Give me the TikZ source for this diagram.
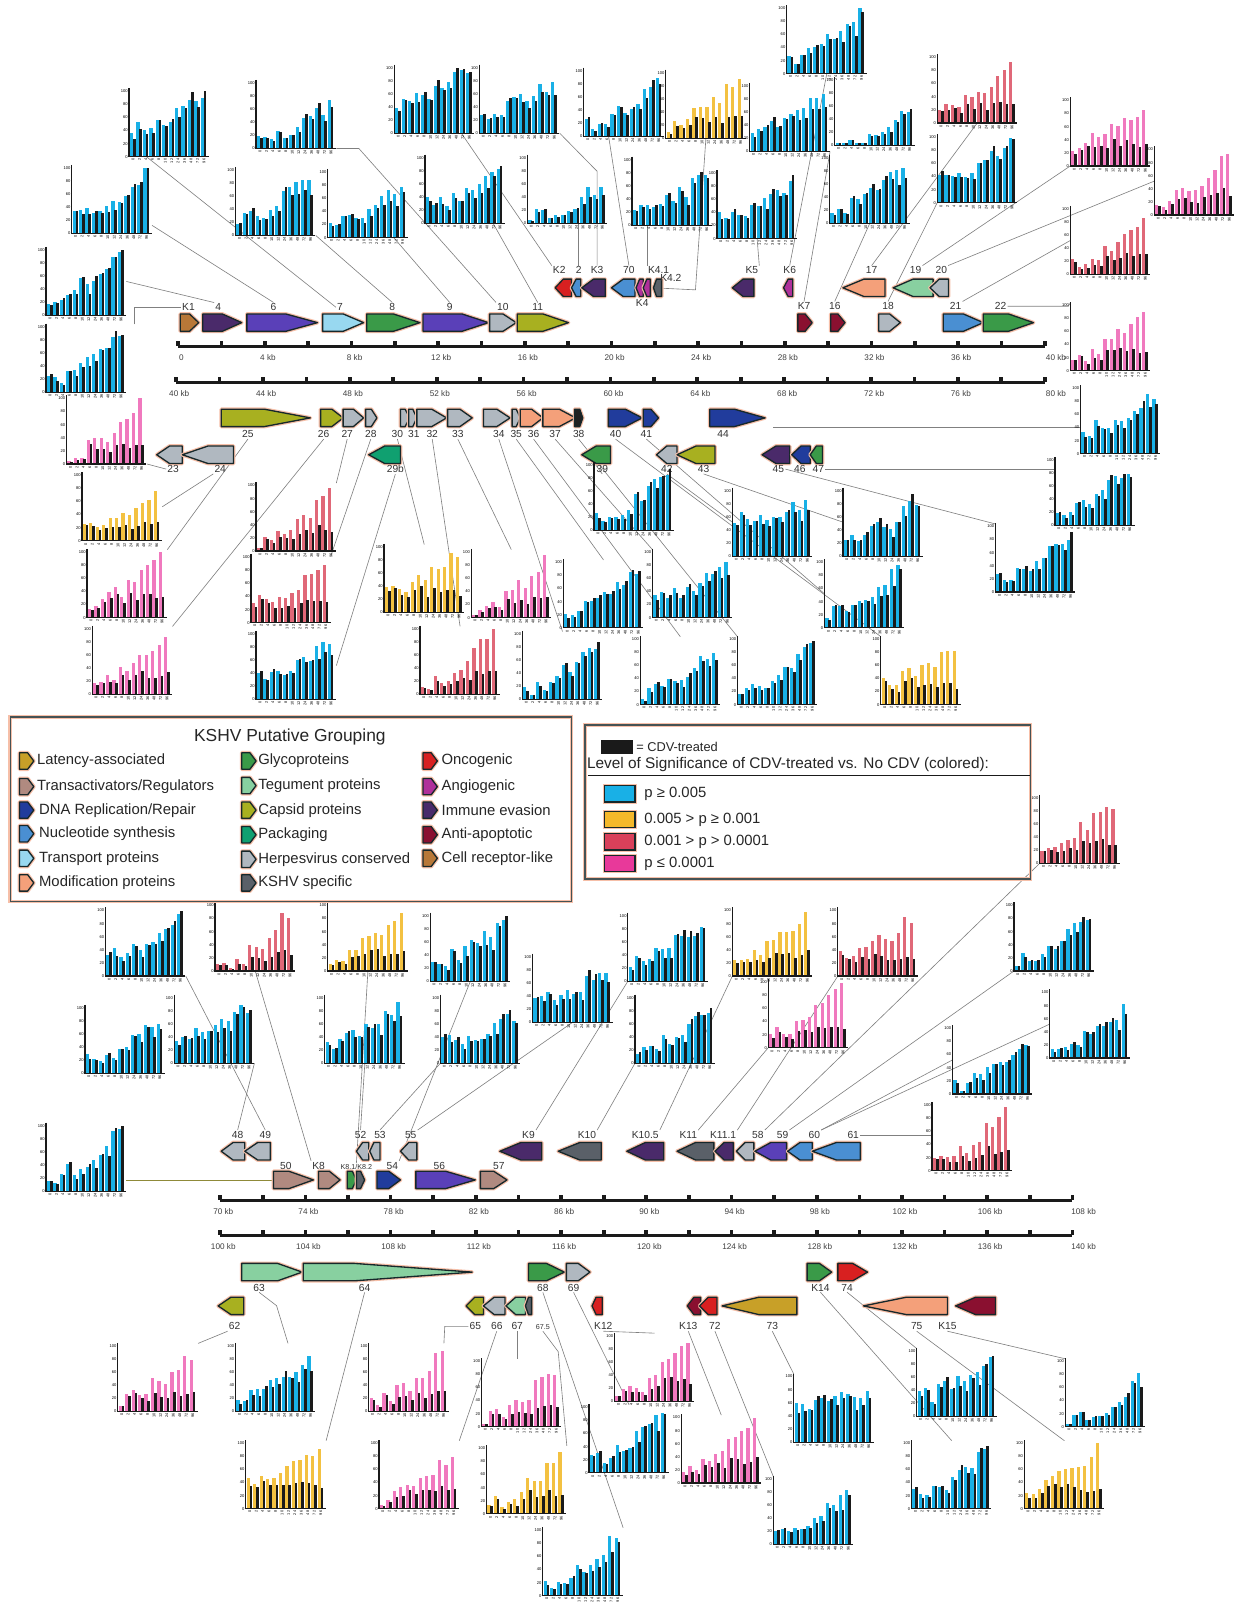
\documentclass[tikz,border=0pt]{standalone}
\usepackage{fontspec}
\setmainfont{Liberation Sans}
\usetikzlibrary{calc}
\pgfdeclarelayer{bg}
\pgfsetlayers{bg,main}
\definecolor{cblue}{HTML}{19B0E6}
\definecolor{cyell}{HTML}{F3C141}
\definecolor{cred}{HTML}{E06878}
\definecolor{cpink}{HTML}{F079BE}
\definecolor{kblack}{HTML}{1A1A1A}
\definecolor{outl}{HTML}{17282B}
\definecolor{halo}{HTML}{F6BFA8}
\definecolor{latency}{HTML}{C8A028}
\definecolor{transact}{HTML}{B08A80}
\definecolor{dna}{HTML}{213C9C}
\definecolor{nucleo}{HTML}{4A8FD2}
\definecolor{transport}{HTML}{98D8F0}
\definecolor{modif}{HTML}{F4A07A}
\definecolor{glyco}{HTML}{3A9A48}
\definecolor{tegument}{HTML}{88D0A0}
\definecolor{capsid}{HTML}{A8B020}
\definecolor{packaging}{HTML}{10A070}
\definecolor{herpes}{HTML}{B0B8C0}
\definecolor{kshv}{HTML}{5A6068}
\definecolor{onco}{HTML}{D82020}
\definecolor{angio}{HTML}{B0309A}
\definecolor{immune}{HTML}{4A2A6A}
\definecolor{antiapo}{HTML}{8A1030}
\definecolor{cellrec}{HTML}{B87838}
\definecolor{violet}{HTML}{5A40B8}
\definecolor{darkg}{HTML}{202020}
\tikzset{
 conn/.style={draw=black!50, line width=0.6pt},
 connol/.style={draw=olive!60!gray, line width=0.7pt},
 glab/.style={font=\fontsize{10}{10}\selectfont, text=black!80, inner sep=1pt},
 sglab/.style={font=\fontsize{7}{7}\selectfont, text=black!80, inner sep=1pt},
 sclab/.style={font=\fontsize{8}{8}\selectfont, text=black!75, inner sep=1pt},
 ylab/.style={font=\fontsize{4}{4}\selectfont, inner sep=0.3pt, anchor=east},
 xlab/.style={font=\fontsize{3.8}{3.8}\selectfont, inner sep=0.3pt, anchor=east, rotate=90},
 halostyle/.style={draw=halo, line width=3.6pt, line join=round},
 gbody/.style={draw=outl, line width=1.3pt, line join=round},
 chartbox/.style={inner sep=0pt, minimum width=78pt, minimum height=66pt, anchor=south west},
 legt/.style={font=\fontsize{14.5}{14.5}\selectfont, anchor=west, inner sep=1pt, text=black!85},
}
% chart: id, x0, y0 (axis origin), colour, base, top, suppressed black (1) or not (0)
\newcommand\kchart[7]{%
\begin{scope}[shift={(#2,#3)}]
\pgfmathsetseed{#1}%
\foreach \i in {0,...,11}{%
 \pgfmathsetmacro\tq{\i/11}%
 \pgfmathsetmacro\cv{max(4,min(100,#5+(#6-#5)*(0.3*\tq+0.7*\tq*\tq)+12*rand))}%
 \ifnum#7=1
   \pgfmathsetmacro\bv{max(3,\cv*(1-0.6*\tq)*(0.7+0.3*rnd))}%
 \else
   \pgfmathsetmacro\bv{max(4,min(100,\cv*(0.7+0.45*rnd)))}%
 \fi
 \fill[#4] ({\i*6.3+0.8},0) rectangle ++(3.2,{-0.64*\cv});
 \fill[kblack] ({\i*6.3+3.8},0) rectangle ++(2.5,{-0.64*\bv});
}
\draw[line width=1.2pt,kblack] (0,-67) -- (0,0) -- (78,0);
\foreach \v in {0,20,40,60,80,100} \node[ylab] (c#1y\v) at (-0.8,{-0.64*\v}) {\v};
\foreach \tv [count=\k from 0] in {0,2,4,6,8,10,12,24,36,48,72,96} \node[xlab] (c#1x\k) at ({\k*6.3+3.8},1.5) {\tv};
\end{scope}
\node[chartbox] (c#1) at (#2,#3) {};
}
% genes: [tip]{name}{x1}{x2}{y}{colour}
\newcommand\gr[6][0]{%
 \pgfmathsetmacro\tp{#1>0 ? #1 : min(0.5*(#4-#3),26)}%
 \draw[halostyle] (#3,#5-8.5) -- ({#4-\tp},#5-8.5) -- (#4,#5) -- ({#4-\tp},#5+8.5) -- (#3,#5+8.5) -- cycle;
 \filldraw[gbody,fill=#6] (#3,#5-8.5) -- ({#4-\tp},#5-8.5) -- (#4,#5) -- ({#4-\tp},#5+8.5) -- (#3,#5+8.5) -- cycle;
 \coordinate (#2) at ({(#3+#4)/2},#5);
 \coordinate (#2s) at (#3,#5);
 \coordinate (#2t) at (#4,#5);
}
\newcommand\gl[6][0]{%
 \pgfmathsetmacro\tp{#1>0 ? #1 : min(0.5*(#4-#3),26)}%
 \draw[halostyle] (#4,#5-8.5) -- ({#3+\tp},#5-8.5) -- (#3,#5) -- ({#3+\tp},#5+8.5) -- (#4,#5+8.5) -- cycle;
 \filldraw[gbody,fill=#6] (#4,#5-8.5) -- ({#3+\tp},#5-8.5) -- (#3,#5) -- ({#3+\tp},#5+8.5) -- (#4,#5+8.5) -- cycle;
 \coordinate (#2) at ({(#3+#4)/2},#5);
 \coordinate (#2s) at (#4,#5);
 \coordinate (#2t) at (#3,#5);
}
% scale bar: id, x0, x1, y, start value, end label
\newcommand\scalebar[6]{%
 \draw[line width=3pt,kblack] (#2,#4) -- (#3,#4);
 \foreach \k in {0,...,20}{\fill[kblack] ({#2+(#3-#2)/20*\k-1.8},#4) rectangle ++(3.6,-5);}
 \foreach \k in {0,...,9}{%
   \pgfmathtruncatemacro\lv{#5+4*\k}%
   \node[sclab] (s#1n\k) at ({#2+(#3-#2)/10*\k+3},#4+11) {\ifnum\lv=0 0\else\lv\ kb\fi};}
 \node[sclab] (s#1n10) at ({#3+11},#4+11) {#6\ kb};
}
\newcommand\licon[4]{%
 \draw[halostyle] (#2,#3-8) -- (#2+8,#3-8) -- (#2+14,#3) -- (#2+8,#3+8) -- (#2,#3+8) -- cycle;
 \filldraw[gbody,fill=#4] (#2,#3-8) -- (#2+8,#3-8) -- (#2+14,#3) -- (#2+8,#3+8) -- (#2,#3+8) -- cycle;
 \coordinate (#1) at (#2+7,#3);
}
\begin{document}
\begin{tikzpicture}[x=1pt,y=-1pt]
\useasboundingbox (0,0) rectangle (1205,1568);
\begin{pgfonlayer}{bg}
\fill[white] (0,0) rectangle (1205,1568);
\end{pgfonlayer}

% ---------------- scale bars
\scalebar{1}{174}{1020}{338}{0}{40}
\scalebar{2}{172}{1020}{373}{40}{80}
\scalebar{3}{215}{1047}{1172}{70}{108}
\scalebar{4}{215}{1047}{1206}{100}{140}

% ---------------- genes row 1
\gr{gK1}{176}{194}{315}{cellrec}
\gr{g4}{198}{236}{315}{immune}
\gr[31]{g6}{241}{310}{315}{violet}
\gr{g7}{315}{355}{315}{transport}
\gr{g8}{358}{410}{315}{glyco}
\gr{g9}{413}{477}{315}{violet}
\gr{g10}{478}{504}{315}{herpes}
\gr{g11}{505}{555}{315}{capsid}
\gr{gK7}{779}{793}{315}{antiapo}
\gr{g16}{811}{825}{315}{antiapo}
\gr{g18}{858}{879}{315}{herpes}
\gr{g21}{921}{960}{315}{nucleo}
\gr{g22}{960}{1009}{315}{glyco}
\gl{gK2}{542}{558}{281}{onco}
\gl{g2}{558}{567}{281}{nucleo}
\gl{gK3}{568}{591}{281}{immune}
\gl{g70}{597}{620}{281}{nucleo}
\gl{gK4}{621}{628}{281}{angio}
\gl{gK41}{628}{635}{281}{angio}
\gl[3]{gK42}{638}{646}{281}{kshv}
\gl{gK5}{715}{736}{281}{immune}
\gl{gK6}{765}{774}{281}{angio}
\gl{g17}{823}{864}{281}{modif}
\gl{g19}{872}{911}{281}{tegument}
\gl{g20}{908}{926}{281}{herpes}
\node[glab] (lK1) at (184,300) {K1};
\node[glab] (l4) at (213,300) {4};
\node[glab] (l6) at (267,300) {6};
\node[glab] (l7) at (332,300) {7};
\node[glab] (l8) at (383,300) {8};
\node[glab] (l9) at (439,300) {9};
\node[glab] (l10) at (491,300) {10};
\node[glab] (l11) at (525,300) {11};
\node[glab] (lK2) at (546,264) {K2};
\node[glab] (l2) at (565,264) {2};
\node[glab] (lK3) at (583,264) {K3};
\node[glab] (l70) at (614,264) {70};
\node[glab] (lK41) at (643,264) {K4.1};
\node[glab] (lK42) at (655,271) {K4.2};
\node[glab] (lK4) at (627,296) {K4};
\node[glab] (lK5) at (734,264) {K5};
\node[glab] (lK6) at (771,264) {K6};
\node[glab] (l17) at (851,264) {17};
\node[glab] (l19) at (894,264) {19};
\node[glab] (l20) at (919,264) {20};
\node[glab] (lK7) at (785,299) {K7};
\node[glab] (l16) at (815,299) {16};
\node[glab] (l18) at (867,299) {18};
\node[glab] (l21) at (933,299) {21};
\node[glab] (l22) at (977,299) {22};

% ---------------- genes row 2
\gr[45]{g25}{216}{303}{408}{capsid}
\gr{g26}{313}{335}{408}{capsid}
\gr{g27}{335}{355}{408}{herpes}
\gr{g28}{357}{368}{408}{herpes}
\gr{g30}{391}{400}{408}{herpes}
\gr{g31}{399}{407}{408}{herpes}
\gr{g32}{407}{436}{408}{herpes}
\gr{g33}{437}{461}{408}{herpes}
\gr{g34}{472}{498}{408}{herpes}
\gr{g35}{500}{508}{408}{herpes}
\gr{g36}{508}{530}{408}{modif}
\gr{g37}{530}{562}{408}{modif}
\gr[3]{g38}{561}{569}{408}{darkg}
\gr{g40}{594}{627}{408}{dna}
\gr{g41}{628}{643}{408}{dna}
\gr[30]{g44}{693}{747}{408}{dna}
\gl{g23}{153}{178}{444}{herpes}
\gl{g24}{178}{228}{444}{herpes}
\gl{g29b}{360}{391}{444}{packaging}
\gl{g39}{568}{596}{444}{glyco}
\gl{g42}{641}{661}{444}{herpes}
\gl{g43}{661}{698}{444}{capsid}
\gl{g45}{744}{771}{444}{immune}
\gl{g46}{773}{791}{444}{dna}
\gl[6]{g47}{791}{803}{444}{glyco}
\node[glab] (l25) at (242,424) {25};
\node[glab] (l26) at (316,424) {26};
\node[glab] (l27) at (339,424) {27};
\node[glab] (l28) at (362,424) {28};
\node[glab] (l30) at (388,424) {30};
\node[glab] (l31) at (404,424) {31};
\node[glab] (l32) at (422,424) {32};
\node[glab] (l33) at (447,424) {33};
\node[glab] (l34) at (487,424) {34};
\node[glab] (l35) at (504,424) {35};
\node[glab] (l36) at (521,424) {36};
\node[glab] (l37) at (542,424) {37};
\node[glab] (l38) at (565,424) {38};
\node[glab] (l40) at (601,424) {40};
\node[glab] (l41) at (631,424) {41};
\node[glab] (l44) at (706,424) {44};
\node[glab] (l23) at (169,458) {23};
\node[glab] (l24) at (215,458) {24};
\node[glab] (l29b) at (386,458) {29b};
\node[glab] (l39) at (588,458) {39};
\node[glab] (l42) at (651,458) {42};
\node[glab] (l43) at (687,458) {43};
\node[glab] (l45) at (760,458) {45};
\node[glab] (l46) at (781,458) {46};
\node[glab] (l47) at (799,458) {47};

% ---------------- genes row 3
\gl{g48}{216}{239}{1124}{herpes}
\gl{g49}{239}{264}{1124}{herpes}
\gl{g52}{348}{360}{1124}{herpes}
\gl[4]{g53}{361}{371}{1124}{herpes}
\gl{g55}{391}{407}{1124}{herpes}
\gl{gK9}{488}{529}{1124}{immune}
\gl{gK10}{545}{587}{1124}{kshv}
\gl{gK105}{612}{648}{1124}{immune}
\gl{gK11}{661}{697}{1124}{kshv}
\gl{gK111}{698}{716}{1124}{immune}
\gl{g58}{719}{736}{1124}{herpes}
\gl{g59}{737}{768}{1124}{violet}
\gl{g60}{769}{793}{1124}{nucleo}
\gl{g61}{793}{840}{1124}{nucleo}
\gr[24]{g50}{267}{306}{1152}{transact}
\gr{gK8}{311}{332}{1152}{transact}
\gr[4]{gK81}{339}{348}{1152}{glyco}
\gr[4]{gK82}{348}{356}{1152}{kshv}
\gr{g54}{368}{391}{1152}{dna}
\gr[29]{g56}{406}{464}{1152}{violet}
\gr{g57}{469}{495}{1152}{transact}
\node[glab] (l48) at (232,1108) {48};
\node[glab] (l49) at (259,1108) {49};
\node[glab] (l52) at (352,1108) {52};
\node[glab] (l53) at (371,1108) {53};
\node[glab] (l55) at (401,1108) {55};
\node[glab] (lK9) at (516,1108) {K9};
\node[glab] (lK10) at (573,1108) {K10};
\node[glab] (lK105) at (630,1108) {K10.5};
\node[glab] (lK11) at (672,1108) {K11};
\node[glab] (lK111) at (706,1108) {K11.1};
\node[glab] (l58) at (740,1108) {58};
\node[glab] (l59) at (764,1108) {59};
\node[glab] (l60) at (795,1108) {60};
\node[glab] (l61) at (833,1108) {61};
\node[glab] (l50) at (279,1138) {50};
\node[glab] (lK8) at (311,1138) {K8};
\node[sglab] (lK81) at (348,1139) {K8.1/K8.2};
\node[glab] (l54) at (383,1138) {54};
\node[glab] (l56) at (429,1138) {56};
\node[glab] (l57) at (487,1138) {57};

% ---------------- genes row 4
\gr[24]{g63}{236}{295}{1242}{tegument}
\gr[115]{g64}{296}{461}{1242}{tegument}
\gr{g68}{516}{551}{1242}{glyco}
\gr{g69}{553}{576}{1242}{herpes}
\gr{gK14}{788}{812}{1242}{glyco}
\gr{g74}{818}{847}{1242}{onco}
\gl{g62}{213}{238}{1275}{capsid}
\gl{g65}{455}{472}{1275}{capsid}
\gl{g66}{472}{493}{1275}{herpes}
\gl{g67}{494}{513}{1275}{tegument}
\gl[3]{g675}{513}{519}{1275}{kshv}
\gl[4]{gK12}{578}{588}{1275}{onco}
\gl{gK13}{671}{684}{1275}{antiapo}
\gl{g72}{683}{700}{1275}{onco}
\gl[36]{g73}{705}{778}{1275}{latency}
\gl[42]{g75}{843}{925}{1275}{modif}
\gl{gK15}{933}{972}{1275}{antiapo}
\node[glab] (l63) at (253,1257) {63};
\node[glab] (l64) at (356,1257) {64};
\node[glab] (l68) at (530,1257) {68};
\node[glab] (l69) at (560,1257) {69};
\node[glab] (lK14) at (801,1257) {K14};
\node[glab] (l74) at (827,1257) {74};
\node[glab] (l62) at (229,1295) {62};
\node[glab] (l65) at (464,1295) {65};
\node[glab] (l66) at (485,1295) {66};
\node[glab] (l67) at (505,1295) {67};
\node[sglab] (l675) at (530,1296) {67.5};
\node[glab] (lK12) at (589,1295) {K12};
\node[glab] (lK13) at (672,1295) {K13};
\node[glab] (l72) at (698,1295) {72};
\node[glab] (l73) at (754,1295) {73};
\node[glab] (l75) at (895,1295) {75};
\node[glab] (lK15) at (925,1295) {K15};

% ---------------- charts
\kchart{1}{126}{153}{cblue}{40}{90}{0}
\kchart{2}{250}{145}{cblue}{15}{65}{0}
\kchart{3}{385}{130}{cblue}{50}{95}{0}
\kchart{4}{468}{130}{cblue}{30}{80}{0}
\kchart{5}{570}{133}{cblue}{20}{80}{0}
\kchart{6}{650}{135}{cyell}{20}{95}{1}
\kchart{7}{732}{148}{cblue}{30}{90}{0}
\kchart{8}{768}{72}{cblue}{20}{100}{0}
\kchart{9}{815}{142}{cblue}{3}{55}{0}
\kchart{10}{915}{120}{cred}{20}{95}{1}
\kchart{11}{915}{198}{cblue}{35}{90}{0}
\kchart{12}{1045}{162}{cpink}{30}{90}{1}
\kchart{13}{1127}{210}{cpink}{15}{95}{1}
\kchart{14}{70}{228}{cblue}{25}{95}{0}
\kchart{15}{230}{230}{cblue}{25}{90}{0}
\kchart{16}{320}{232}{cblue}{20}{80}{0}
\kchart{17}{415}{218}{cblue}{30}{75}{0}
\kchart{18}{515}{218}{cblue}{10}{60}{0}
\kchart{19}{617}{220}{cblue}{20}{80}{0}
\kchart{20}{700}{233}{cblue}{30}{80}{0}
\kchart{21}{810}{218}{cblue}{20}{90}{0}
\kchart{22}{1045}{268}{cred}{20}{90}{1}
\kchart{23}{45}{308}{cblue}{30}{90}{0}
\kchart{24}{1045}{362}{cpink}{20}{95}{1}
\kchart{25}{45}{383}{cblue}{20}{90}{0}
\kchart{26}{65}{453}{cpink}{15}{95}{1}
\kchart{27}{1055}{443}{cblue}{35}{90}{0}
\kchart{28}{80}{528}{cyell}{20}{80}{1}
\kchart{29}{250}{538}{cred}{15}{90}{1}
\kchart{30}{1030}{513}{cblue}{20}{85}{0}
\kchart{31}{580}{518}{cblue}{20}{90}{0}
\kchart{32}{715}{543}{cblue}{60}{80}{0}
\kchart{33}{823}{543}{cblue}{25}{85}{0}
\kchart{34}{972}{578}{cblue}{20}{85}{0}
\kchart{35}{85}{603}{cpink}{20}{95}{1}
\kchart{36}{245}{608}{cred}{30}{95}{1}
\kchart{37}{375}{598}{cyell}{30}{90}{1}
\kchart{38}{460}{603}{cpink}{10}{90}{1}
\kchart{39}{550}{613}{cblue}{20}{90}{0}
\kchart{40}{637}{603}{cblue}{25}{90}{0}
\kchart{41}{805}{613}{cblue}{20}{90}{0}
\kchart{42}{90}{678}{cpink}{15}{95}{1}
\kchart{43}{250}{683}{cblue}{30}{90}{0}
\kchart{44}{410}{678}{cred}{15}{100}{1}
\kchart{45}{510}{683}{cblue}{15}{85}{0}
\kchart{46}{625}{688}{cblue}{20}{85}{0}
\kchart{47}{720}{688}{cblue}{20}{90}{0}
\kchart{48}{860}{688}{cyell}{35}{90}{1}
\kchart{49}{1015}{843}{cred}{30}{90}{1}
\kchart{50}{103}{953}{cblue}{35}{90}{0}
\kchart{51}{210}{948}{cred}{5}{90}{1}
\kchart{52}{320}{948}{cyell}{20}{95}{1}
\kchart{53}{420}{958}{cblue}{30}{90}{0}
\kchart{54}{520}{998}{cblue}{30}{85}{0}
\kchart{55}{613}{958}{cblue}{30}{90}{0}
\kchart{56}{715}{953}{cyell}{25}{95}{1}
\kchart{57}{818}{953}{cred}{30}{90}{1}
\kchart{58}{990}{948}{cblue}{15}{85}{0}
\kchart{59}{750}{1023}{cpink}{20}{95}{1}
\kchart{60}{83}{1048}{cblue}{20}{85}{0}
\kchart{61}{170}{1038}{cblue}{40}{85}{0}
\kchart{62}{317}{1038}{cblue}{30}{90}{0}
\kchart{63}{430}{1038}{cblue}{30}{75}{0}
\kchart{64}{620}{1038}{cblue}{20}{85}{0}
\kchart{65}{1025}{1033}{cblue}{10}{80}{0}
\kchart{66}{930}{1068}{cblue}{10}{85}{0}
\kchart{67}{45}{1163}{cblue}{20}{95}{0}
\kchart{68}{910}{1143}{cred}{15}{95}{1}
\kchart{69}{115}{1378}{cpink}{20}{90}{1}
\kchart{70}{230}{1378}{cblue}{20}{85}{0}
\kchart{71}{360}{1378}{cpink}{15}{90}{1}
\kchart{72}{470}{1393}{cpink}{15}{90}{1}
\kchart{73}{600}{1368}{cpink}{10}{90}{1}
\kchart{74}{240}{1473}{cyell}{40}{90}{1}
\kchart{75}{370}{1473}{cpink}{15}{90}{1}
\kchart{76}{475}{1478}{cyell}{15}{95}{1}
\kchart{77}{575}{1438}{cblue}{20}{90}{0}
\kchart{78}{665}{1448}{cpink}{25}{95}{1}
\kchart{79}{775}{1408}{cblue}{60}{80}{0}
\kchart{80}{895}{1383}{cblue}{30}{90}{0}
\kchart{81}{1040}{1393}{cblue}{5}{70}{0}
\kchart{82}{755}{1508}{cblue}{20}{85}{0}
\kchart{83}{890}{1473}{cblue}{20}{90}{0}
\kchart{84}{1000}{1473}{cyell}{30}{90}{1}
\kchart{85}{530}{1558}{cblue}{20}{90}{0}

% ---------------- legend (left)
\draw[halo, line width=3.5pt] (10,700) rectangle (558,880);
\draw[outl!80, line width=1.4pt] (10,700) rectangle (558,880);
\node[font=\fontsize{17}{17}\selectfont, text=black!85] (legtitle) at (283,720) {KSHV Putative Grouping};
\licon{i1}{19}{743}{latency}      \node[legt] (t1) at (35,743) {Latency-associated};
\licon{i2}{19}{768}{transact}     \node[legt] (t2) at (35,768) {Transactivators/Regulators};
\licon{i3}{19}{791}{dna}          \node[legt] (t3) at (37,791) {DNA Replication/Repair};
\licon{i4}{19}{814}{nucleo}       \node[legt] (t4) at (37,814) {Nucleotide synthesis};
\licon{i5}{19}{838}{transport}    \node[legt] (t5) at (37,838) {Transport proteins};
\licon{i6}{19}{862}{modif}        \node[legt] (t6) at (37,862) {Modification proteins};
\licon{i7}{236}{743}{glyco}       \node[legt] (t7) at (251,743) {Glycoproteins};
\licon{i8}{236}{767}{tegument}    \node[legt] (t8) at (251,767) {Tegument proteins};
\licon{i9}{236}{791}{capsid}      \node[legt] (t9) at (251,791) {Capsid proteins};
\licon{i10}{236}{815}{packaging}  \node[legt] (t10) at (251,815) {Packaging};
\licon{i11}{236}{839}{herpes}     \node[legt] (t11) at (251,839) {Herpesvirus conserved};
\licon{i12}{236}{862}{kshv}       \node[legt] (t12) at (251,862) {KSHV specific};
\licon{i13}{413}{743}{onco}       \node[legt] (t13) at (430,743) {Oncogenic};
\licon{i14}{413}{768}{angio}      \node[legt] (t14) at (430,768) {Angiogenic};
\licon{i15}{413}{791}{immune}     \node[legt] (t15) at (430,791) {Immune evasion};
\licon{i16}{413}{815}{antiapo}    \node[legt] (t16) at (430,815) {Anti-apoptotic};
\licon{i17}{413}{838}{cellrec}    \node[legt] (t17) at (430,838) {Cell receptor-like};

% ---------------- legend (right)
\draw[halo, line width=3.5pt] (571,708) rectangle (1006,858);
\draw[outl!80, line width=1.4pt] (571,708) rectangle (1006,858);
\fill[kblack] (587,722) rectangle (618,736);
\node[legt, font=\fontsize{12.5}{12.5}\selectfont] (cdv) at (620,729) {= CDV-treated};
\node[legt, font=\fontsize{15}{15}\selectfont] (lvl) at (572,746) {Level of Significance of CDV-treated vs. No CDV (colored):};
\draw[kblack, line width=1pt] (574,757) -- (1006,757);
\foreach \yy/\cc/\tx [count=\n] in {775/19B0E6/{p ≥ 0.005}, 800/F5B82A/{0.005 > p ≥ 0.001}, 822/D9405A/{0.001 > p > 0.0001}, 843/E8399A/{p ≤ 0.0001}}{
  \definecolor{swc}{HTML}{\cc}
  \draw[halo, line width=3pt] (590,\yy-8) rectangle (620,\yy+8);
  \filldraw[fill=swc, draw=outl, line width=1.3pt] (590,\yy-8) rectangle (620,\yy+8);
  \node[legt] (sw\n) at (628,\yy) {\tx};
}

% ---------------- connectors
\coordinate (a44) at (755,417);
\begin{pgfonlayer}{bg}
\draw[conn] (c23.east) -- (l4.north west);
\draw[conn] ([xshift=8pt]c25.north east) |- (lK1.west);
\draw[conn] ([yshift=8pt]c14.south east) -- (l6.north);
\draw[conn] ([xshift=17pt]c1.south west) -- (l7.west);
\draw[conn] (c15.south east) -- (l8.north);
\draw[conn] (c2.south east) -- ++(22,0) -- (l10.north west);
\draw[conn] ([xshift=-14pt]c16.south east) -- (l9.north);
\draw[conn] ([xshift=-12pt]c17.south east) -- (l11.north);
\draw[conn] ([xshift=-13pt]c3.south east) -- (lK2.north west);
\draw[conn] (l2.north) -- (l2.north |- c18.south);
\draw[conn] (c4.south east) -- ([yshift=92pt]lK3.north) -- (lK3.north);
\draw[conn] ([xshift=-15pt]c5.south) -- (l70.north);
\draw[conn] (lK41.north west) -- (lK41.north west |- c19.south);
\draw[conn] (c6.south) -- (679,283) -- (gK42t);
\draw[conn] (c20.south) -- (lK5.north east);
\draw[conn] (c8.south) -- (lK6.north);
\draw[conn] (c7.south east) -- (lK7.north);
\draw[conn] (c21.south) -- (l16.north);
\draw[conn] (c10.south) -- (l17.north);
\draw[conn] (c11.south west) -- (l18.north);
\draw[conn] (c12.south west) -- (l19.north east);
\draw[conn] (c13.west) -- (l20.north east);
\draw[conn] (c22.west) -- (l21.north east);
\draw[conn] (l22.east) -- (1043,299) -- (c24.north west);
\draw[conn] (c26.south east) -- (l23.west);
\draw[conn] (l24.south west) -- (c28.east);
\draw[conn] (l25.south) -- (c35.north east);
\draw[conn] (l26.south) -- (c42.north east);
\draw[conn] (l27.south) -- (c29.north east);
\draw[conn] (l28.south) -- (c36.north east);
\draw[conn] (l29b.south) -- (c43.east);
\draw[conn] (l30.south) -- (c37.north);
\draw[conn] (l32.south) -- (c44.north);
\draw[conn] (l33.south) -- (c38.north);
\draw[conn] (l34.south) -- (c45.north);
\draw[conn] (l35.south) -- (c39.north);
\draw[conn] (l36.south) -- (c46.north);
\draw[conn] (l37.south) -- (c40.north west);
\draw[conn] (l38.south) -- (c47.north west);
\draw[conn] (l39.south) -- (c31.north west);
\draw[conn] (l40.south) -- (c48.north west);
\draw[conn] (l41.south) -- (c41.west);
\draw[conn] (l42.south) -- (c32.west);
\draw[conn] (l43.south) -- (c33.west);
\draw[conn] (l45.east) -- (c34.north west);
\draw[conn] (l47.east) -- (l47.east -| c30.west);
\draw[conn] (a44) -- (a44 -| c27.west);
\draw[connol] (c67.east |- g50s) -- (g50s);
\draw[conn] (c61.south east) -- (l48.north);
\draw[conn] (c50.south east) -- (l49.north);
\draw[conn] (c51.south) -- (lK8.north west);
\draw[conn] (c52.south) -- (lK81.north);
\draw[conn] (c62.south) -- (l52.north);
\draw[conn] (c63.south west) -- (l53.north);
\draw[conn] (c53.south) -- (l54.north east);
\draw[conn] (c54.south) -- (l55.north east);
\draw[conn] (c55.south west) -- (lK9.north east);
\draw[conn] (c64.south west) -- (lK10.north east);
\draw[conn] (c56.south west) -- (lK105.north east);
\draw[conn] (c59.south west) -- (lK11.north east);
\draw[conn] (c57.south west) -- (lK111.north east);
\draw[conn] (c49.south west) -- (l58.north east);
\draw[conn] (c58.south west) -- (l59.north east);
\draw[conn] (c65.west) -- (l60.north east);
\draw[conn] (c66.west) -- (l60.north east);
\draw[conn] (l61.east) -- (c68.west |- l61.east);
\draw[conn] (l62.south west) -- (c69.north east);
\draw[conn] (l63.south) -- ++(17,13) -- ([xshift=12pt]c70.north);
\draw[conn] (l64.south) -- (c74.north east);
\draw[conn] (l65.west) -- ++(-23,0) -- ([xshift=-5pt]c71.north east);
\draw[conn] (l66.south) -- (c75.north east);
\draw[conn] (l67.south) -- (l67.south |- c72.north);
\draw[conn] (l675.south) -- ++(15,20) -- (c76.north east);
\draw[conn] (l68.south) -- (c85.north east);
\draw[conn] (l69.south) -- (c77.north);
\draw[conn] (lK12.south) -- (c73.north);
\draw[conn] (lK13.south) -- (c78.north);
\draw[conn] (l72.south) -- (c82.north west);
\draw[conn] (l73.south) -- (c79.north west);
\draw[conn] (lK14.south) -- (c83.north);
\draw[conn] (l74.south) -- (c80.north west);
\draw[conn] (l75.south) -- (c84.north);
\draw[conn] (lK15.south) -- (c81.north west);
\end{pgfonlayer}
\end{tikzpicture}
\end{document}
